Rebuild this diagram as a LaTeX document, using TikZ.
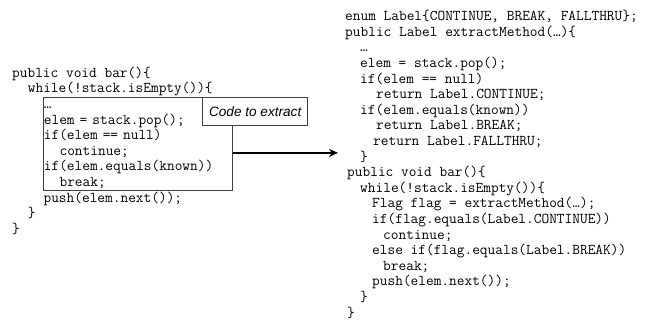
\documentclass[tikz,border=0pt]{standalone}
\usepackage{fontspec}
\setmainfont{Liberation Sans}
\usetikzlibrary{positioning,arrows.meta}
\newcommand{\ind}[1]{\hspace*{#1bp}}

\begin{document}
\begin{tikzpicture}[x=1bp, y=-1bp,
    code/.style={inner sep=0pt, align=left, anchor=north west,
      font=\ttfamily\fontsize{14.95bp}{15.5bp}\selectfont},
    codebox/.style={code, draw=black!75, line width=1bp, inner xsep=0.8bp,
      text width=188bp},
    tagbox/.style={draw=black!75, line width=1bp, fill=white, inner sep=0pt,
      minimum width=104.5bp, minimum height=27.7bp,
      font=\itshape\fontsize{13.6bp}{16bp}\selectfont}]
  \useasboundingbox (0,0) rectangle (656,320);

  % original method, with the part to pull out in a box
  \node (leftTop) at (12,66) [code]
    {\strut public void bar()\{\\
     \ind{15.7}while(!stack.isEmpty())\{\strut};
  \node (extracted) [codebox, below right=0pt and 30.6bp of leftTop.south west]
    {\strut …\\
     elem = stack.pop();\\
     if(elem == null)\\
     \ind{15.7}continue;\\
     if(elem.equals(known))\\
     \ind{15.7}break;\strut};
  \node (leftBottom) [code, below right=0pt and -30.6bp of extracted.south west]
    {\strut \ind{31.4}push(elem.next());\\
     \ind{15.7}\}\\
     \}\strut};
  \node (codeTag) at ([xshift=22bp]extracted.north east) [tagbox, anchor=north]
    {Code to extract};

  % result of the refactoring
  \node (rightCode) at (345,9.6) [code, font=\ttfamily\fontsize{14.95bp}{15.6bp}\selectfont]
    {\strut enum Label\{CONTINUE, BREAK, FALLTHRU\};\\
     public Label extractMethod(…)\{\\
     \ind{15}…\\
     \ind{15}elem = stack.pop();\\
     \ind{15}if(elem == null)\\
     \ind{31}return Label.CONTINUE;\\
     \ind{15}if(elem.equals(known))\\
     \ind{31}return Label.BREAK;\\
     \ind{28}return Label.FALLTHRU;\\
     \ind{15}\}\\
     \ind{2}public void bar()\{\\
     \ind{15}while(!stack.isEmpty())\{\\
     \ind{27}Flag flag = extractMethod(…);\\
     \ind{27}if(flag.equals(Label.CONTINUE))\\
     \ind{38}continue;\\
     \ind{27}else if(flag.equals(Label.BREAK))\\
     \ind{38}break;\\
     \ind{27}push(elem.next());\\
     \ind{15}\}\\
     \ind{2}\}\strut};

  \coordinate (arrowStart) at ([yshift=-8.5bp]extracted.east);
  \draw[-{Stealth[length=9bp,width=8bp]}, line width=1.8bp, shorten >=7bp]
    (arrowStart) -- (arrowStart -| rightCode.west);
\end{tikzpicture}
\end{document}
